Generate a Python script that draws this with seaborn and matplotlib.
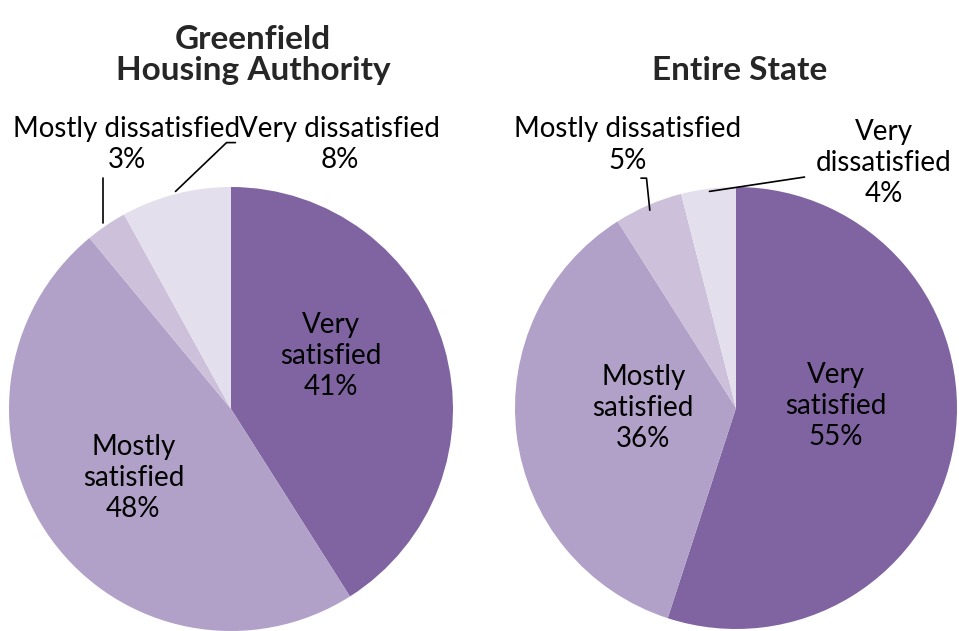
import matplotlib
matplotlib.use("Agg")
import matplotlib.pyplot as plt
import seaborn as sns

categories = ["Very satisfied", "Mostly satisfied", "Mostly dissatisfied", "Very dissatisfied"]
greenfield = [41, 48, 3, 8]
state = [55, 36, 5, 4]
titles = ["Greenfield\nHousing Authority", "Entire State"]
colors = ["#8064A2", "#B1A0C7", "#CCC0DA", "#E4DFEC"]

sns.set_theme(style="white")
plt.rcParams["font.family"] = ["Lato", "DejaVu Sans"]

W, H = 959, 631
fig = plt.figure(figsize=(W / 100, H / 100), dpi=100)

def px_axes(cx, cy, r):
    return fig.add_axes([(cx - r) / W, 1 - (cy + r) / H, 2 * r / W, 2 * r / H])

FS = 20

# label positions in pie radius units (centre of text block)
left_labels = [(0.45, 0.24), (-0.44, -0.31), (-0.47, 1.19), (0.49, 1.19)]
right_labels = [(0.45, 0.01), (-0.42, 0.0), (-0.49, 1.19), (0.67, 1.11)]
left_text = ["Very\nsatisfied", "Mostly\nsatisfied", "Mostly dissatisfied", "Very dissatisfied"]
right_text = ["Very\nsatisfied", "Mostly\nsatisfied", "Mostly dissatisfied", "Very\ndissatisfied"]
left_leaders = [None, None, [(-0.577, 0.84), (-0.577, 1.04)],
                [(-0.25, 0.98), (-0.02, 1.20), (0.02, 1.20)]]
right_leaders = [None, None, [(-0.39, 0.895), (-0.405, 1.04), (-0.43, 1.04)],
                 [(-0.12, 0.98), (0.31, 1.045)]]

for (cx, cy, r), vals, names, pos, leads in [
        ((231, 409, 222), greenfield, left_text, left_labels, left_leaders),
        ((736, 408, 221), state, right_text, right_labels, right_leaders)]:
    ax = px_axes(cx, cy, r)
    ax.pie(vals, colors=colors, startangle=90, counterclock=False, radius=1,
           wedgeprops={"linewidth": 0})
    ax.set_xlim(-1, 1)
    ax.set_ylim(-1, 1)
    ax.set_aspect("auto")
    ax.axis("off")
    for v, name, (x, y), lead in zip(vals, names, pos, leads):
        ax.text(x, y, f"{name}\n{v}%", ha="center", va="center", fontsize=FS,
                color="black", linespacing=1.24, clip_on=False, zorder=5)
        if lead:
            xs, ys = zip(*lead)
            ax.plot(xs, ys, color="black", lw=1.2, clip_on=False)

fig.text(253 / W, 1 - 80 / H, titles[0], ha="center", va="baseline",
         fontsize=24, fontweight="bold", linespacing=1.1)
fig.text(740 / W, 1 - 80 / H, titles[1], ha="center", va="baseline",
         fontsize=24, fontweight="bold")

fig.savefig("out.png", dpi=100)
